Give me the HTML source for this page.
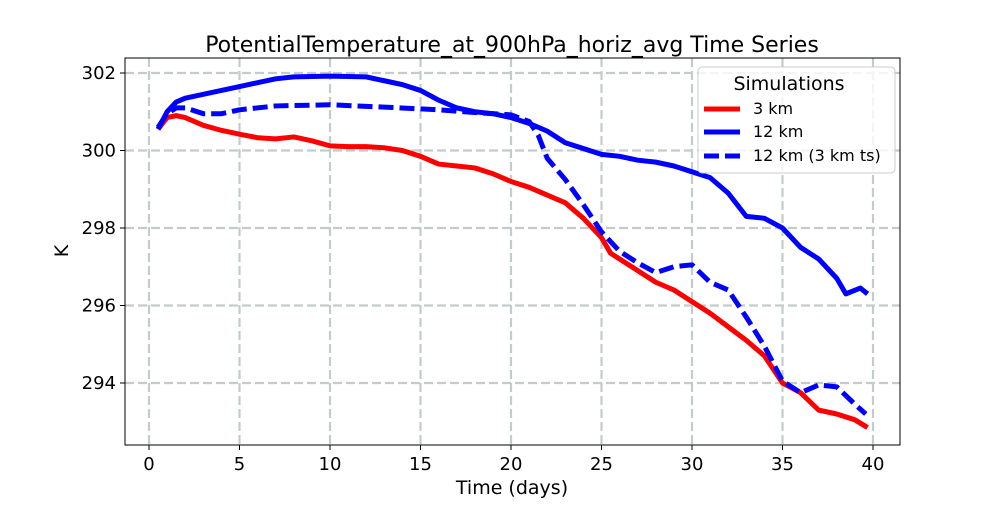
<!DOCTYPE html>
<html><head><meta charset="utf-8"><style>
body{margin:0;background:#fff;font-family:"Liberation Sans","DejaVu Sans",sans-serif}
svg text{font-family:"DejaVu Sans","Liberation Sans",sans-serif}
</style></head><body>
<svg id="chart" width="1000" height="500" xmlns="http://www.w3.org/2000/svg">
<rect width="1000" height="500" fill="#fff"/>
<g id="grid"></g>
<g id="series"></g>
<rect x="125" y="58" width="775" height="387" fill="none" stroke="#000" stroke-width="1"/>
<g id="axes"></g>
<text x="512" y="52" text-anchor="middle" font-size="22">PotentialTemperature_at_900hPa_horiz_avg Time Series</text>
<text x="512" y="494" text-anchor="middle" font-size="19">Time (days)</text>
<text transform="translate(68,251) rotate(-90)" text-anchor="middle" font-size="19">K</text>
<g>
<rect x="698" y="67" width="197" height="106" rx="4" fill="#fff" fill-opacity="0.8" stroke="#ccc"/>
<text x="789" y="90" text-anchor="middle" font-size="19">Simulations</text>
<line x1="704" y1="109" x2="740" y2="109" stroke="#f00" stroke-width="5"/>
<text x="753" y="114" font-size="16">3 km</text>
<line x1="704" y1="132" x2="740" y2="132" stroke="#00f" stroke-width="5"/>
<text x="753" y="137" font-size="16">12 km</text>
<line x1="704" y1="156" x2="740" y2="156" stroke="#00f" stroke-width="5" stroke-dasharray="15 6"/>
<text x="753" y="161" font-size="16">12 km (3 km ts)</text>
</g>
</svg>
<script>
const xTicks=[0,5,10,15,20,25,30,35,40];
const yTicks=[294,296,298,300,302];
const redX=[0.5,1,1.5,2,3,4,5,6,7,8,9,10,11,12,13,14,15,16,17,18,19,20,21,22,23,24,25,25.5,26,27,28,29,30,31,32,33,34,35,36,37,38,39,39.7];
const redY=[300.55,300.85,300.9,300.85,300.65,300.52,300.42,300.33,300.3,300.35,300.25,300.12,300.1,300.1,300.07,300.0,299.85,299.65,299.6,299.55,299.4,299.2,299.05,298.85,298.65,298.25,297.75,297.35,297.2,296.9,296.6,296.4,296.1,295.8,295.45,295.1,294.7,294.0,293.75,293.3,293.2,293.05,292.85];
const blueX=[0.5,1,1.5,2,3,4,5,6,7,8,10,12,13,14,15,16,17,18,19,20,21,22,23,24,25,26,27,28,29,30,31,32,33,34,35,36,37,38,38.5,39.3,39.7];
const blueY=[300.55,301.0,301.25,301.35,301.45,301.55,301.65,301.75,301.85,301.9,301.92,301.9,301.8,301.7,301.55,301.3,301.1,301.0,300.95,300.85,300.7,300.5,300.2,300.05,299.9,299.85,299.75,299.7,299.6,299.45,299.3,298.9,298.3,298.25,298.0,297.5,297.2,296.7,296.3,296.45,296.3];
const dashX=[0.5,1,1.5,2,3,4,5,7,10,13,16,18,20,21,21.5,22,23,24,25,26,27,28,29,30,31,32,33,34,35,36,37,38,39,39.6];
const dashY=[300.6,300.95,301.1,301.1,300.95,300.95,301.05,301.15,301.18,301.12,301.05,300.98,300.92,300.75,300.4,299.8,299.25,298.6,297.9,297.4,297.1,296.85,297.0,297.05,296.6,296.4,295.7,294.95,294.05,293.75,293.95,293.9,293.45,293.2];
const sx=v=>149+v*(873-149)/40;
const sy=v=>73+(302-v)*(383-73)/8;
const NS="http://www.w3.org/2000/svg";
const grid=document.getElementById('grid'),axes=document.getElementById('axes'),ser=document.getElementById('series');
function mk(t,a,p){const e=document.createElementNS(NS,t);for(const k in a)e.setAttribute(k,a[k]);p.appendChild(e);return e;}
xTicks.forEach(t=>{const x=sx(t);
const g=mk('line',{x1:x,x2:x,y1:58,y2:445,stroke:'#c3cccc','stroke-width':2.2,'stroke-dasharray':'9 4'},grid);


mk('line',{x1:x,x2:x,y1:445,y2:450,stroke:'#000'},axes);
const l=mk('text',{x:x,y:470,'text-anchor':'middle','font-size':18},axes);l.textContent=t;

});
yTicks.forEach(t=>{const y=sy(t);
const g=mk('line',{x1:125,x2:900,y1:y,y2:y,stroke:'#c3cccc','stroke-width':2.2,'stroke-dasharray':'9 4'},grid);


mk('line',{x1:120,x2:125,y1:y,y2:y,stroke:'#000'},axes);
const l=mk('text',{x:116,y:y+6,'text-anchor':'end','font-size':18},axes);l.textContent=t;

});
function line(xs,ys,color,dash,name){
const p=mk('polyline',{points:xs.map((x,i)=>sx(x)+','+sy(ys[i])).join(' '),fill:'none',stroke:color,'stroke-width':5,'stroke-linejoin':'round'},ser);
if(dash)p.setAttribute('stroke-dasharray',dash);

}
line(redX,redY,'#f00',null,'series-3km');
line(blueX,blueY,'#00f',null,'series-12km');
line(dashX,dashY,'#00f','15 6','series-12km-3km-ts');
</script>
</body></html>
